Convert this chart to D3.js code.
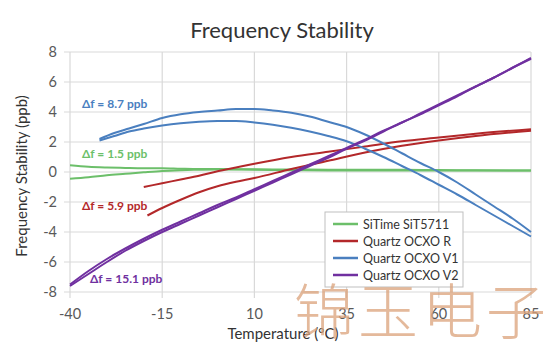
<!DOCTYPE html>
<html><head><meta charset="utf-8">
<script src="https://cdn.jsdelivr.net/npm/d3@7"></script>
<style>body{margin:0;background:#fff}svg{display:block}</style>
</head><body><svg id="c" width="560" height="358"></svg>
<script>
// ---- data ----
const xTicks = [-40, -15, 10, 35, 60, 85];
const yTicks = [-8, -6, -4, -2, 0, 2, 4, 6, 8];

const siTimeT1 = [-40,-35,-30,-25,-20,-15,-10,-5,0,10,20,30,40,50,60,70,85];
const siTimeV1 = [0.45,0.35,0.3,0.27,0.25,0.25,0.22,0.2,0.2,0.18,0.17,0.15,0.15,0.15,0.13,0.12,0.1];
const siTimeT2 = [-40,-35,-30,-25,-20,-15,-10,-5,0,10,20,30,40,50,60,70,85];
const siTimeV2 = [-0.45,-0.35,-0.22,-0.12,-0.02,0.07,0.12,0.15,0.17,0.15,0.12,0.1,0.1,0.1,0.1,0.1,0.1];

const ocxoRT1 = [-20,-15,-10,-5,0,5,10,20,30,40,50,60,70,85];
const ocxoRV1 = [-1.0,-0.75,-0.5,-0.25,0.05,0.3,0.55,1.0,1.35,1.7,2.05,2.3,2.55,2.85];
const ocxoRT2 = [-19,-15,-10,-5,0,5,10,20,30,40,50,60,70,85];
const ocxoRV2 = [-2.9,-2.4,-1.85,-1.35,-0.95,-0.65,-0.4,0.2,0.75,1.3,1.75,2.1,2.4,2.75];

const ocxoV1T1 = [-32,-28,-24,-20,-15,-10,-5,0,5,10,15,20,25,30,35,40,45,50,55,60,65,70,75,80,85];
const ocxoV1V1 = [2.2,2.6,2.9,3.2,3.6,3.85,4.0,4.1,4.2,4.2,4.1,3.95,3.7,3.35,3.0,2.5,1.9,1.25,0.6,0.0,-0.7,-1.5,-2.3,-3.1,-4.0];
const ocxoV1T2 = [-32,-28,-24,-20,-15,-10,-5,0,5,10,15,20,25,30,35,40,45,50,55,60,65,70,75,80,85];
const ocxoV1V2 = [2.1,2.4,2.7,2.9,3.1,3.25,3.35,3.4,3.4,3.3,3.15,2.95,2.7,2.4,2.05,1.55,1.0,0.4,-0.2,-0.85,-1.5,-2.2,-2.9,-3.6,-4.3];

const ocxoV2T1 = [-40,-35,-30,-25,-20,-15,-10,-5,0,5,10,15,20,25,30,35,40,45,50,55,60,65,70,75,80,85];
const ocxoV2V1 = [-7.6,-6.8,-6.0,-5.25,-4.6,-4.0,-3.45,-2.9,-2.35,-1.8,-1.25,-0.7,-0.15,0.4,0.95,1.55,2.1,2.7,3.3,3.85,4.45,5.05,5.7,6.3,6.95,7.6];
const ocxoV2T2 = [-40,-35,-30,-25,-20,-15,-10,-5,0,5,10,15,20,25,30,35,40,45,50,55,60,65,70,75,80,85];
const ocxoV2V2 = [-7.5,-6.6,-5.8,-5.1,-4.45,-3.85,-3.3,-2.75,-2.2,-1.7,-1.15,-0.6,-0.05,0.5,1.05,1.6,2.15,2.75,3.3,3.9,4.5,5.1,5.7,6.3,6.95,7.55];

const seriesNames = ["SiTime SiT5711", "Quartz OCXO R", "Quartz OCXO V1", "Quartz OCXO V2"];
const seriesColors = ["#6cbf6a", "#b3282a", "#4a7fbf", "#7030a0"];
const annotations = ["\u0394f = 1.5 ppb", "\u0394f = 5.9 ppb", "\u0394f = 8.7 ppb", "\u0394f = 15.1 ppb"];

const branches = [
  [0, siTimeT1, siTimeV1], [0, siTimeT2, siTimeV2],
  [1, ocxoRT1, ocxoRV1], [1, ocxoRT2, ocxoRV2],
  [2, ocxoV1T1, ocxoV1V1], [2, ocxoV1T2, ocxoV1V2],
  [3, ocxoV2T1, ocxoV2V1], [3, ocxoV2T2, ocxoV2V2]
];

// ---- layout ----
const svg = d3.select("#c");
const font = "Lato, 'Open Sans', sans-serif";
const x = d3.scaleLinear().domain([-40, 85]).range([70, 531]);
const y = d3.scaleLinear().domain([-8, 8]).range([292, 52]);

// gridlines
const g = svg.append("g");
g.selectAll(".hg").data(yTicks).join("line")
  .attr("x1", x(-40) - 6).attr("x2", x(85))
  .attr("y1", d => y(d)).attr("y2", d => y(d))
  .attr("stroke", "#d9d9d9").attr("stroke-width", 1.2);
g.selectAll(".vg").data(xTicks).join("line")
  .attr("x1", d => x(d)).attr("x2", d => x(d))
  .attr("y1", y(8)).attr("y2", y(-8) + 6)
  .attr("stroke", "#d9d9d9").attr("stroke-width", 1.2);

// tick labels
svg.selectAll(".yl").data(yTicks).join("text")
  .attr("x", 57).attr("y", d => y(d) + 5)
  .attr("text-anchor", "end").attr("font-family", font).attr("font-size", 14.5)
  .attr("fill", "#595959").text(d => d);
svg.selectAll(".xl").data(xTicks).join("text")
  .attr("x", d => x(d)).attr("y", 319)
  .attr("text-anchor", "middle").attr("font-family", font).attr("font-size", 14.5)
  .attr("fill", "#595959").text(d => d);

// titles
svg.append("text").attr("x", 282).attr("y", 38).attr("text-anchor", "middle")
  .attr("font-family", font).attr("font-size", 22).attr("fill", "#333")
  .text("Frequency Stability");
svg.append("text").attr("x", 283).attr("y", 339).attr("text-anchor", "middle")
  .attr("font-family", font).attr("font-size", 15).attr("fill", "#333")
  .text("Temperature (\u00B0C)");
svg.append("text").attr("transform", "translate(27,176) rotate(-90)").attr("text-anchor", "middle")
  .attr("font-family", font).attr("font-size", 15).attr("fill", "#333")
  .text("Frequency Stability (ppb)");

// lines
const line = d3.line().curve(d3.curveMonotoneX);
branches.forEach(([s, ts, vs]) => {
  svg.append("path")
    .attr("d", line(ts.map((t, i) => [x(t), y(vs[i])])))
    .attr("fill", "none").attr("stroke", seriesColors[s]).attr("stroke-width", 2);
});

// annotations
const annPos = [[82, 158], [82, 210], [82, 108], [90, 283]];
annotations.forEach((a, i) => {
  svg.append("text").attr("x", annPos[i][0]).attr("y", annPos[i][1])
    .attr("font-family", font).attr("font-size", 12).attr("font-weight", "bold")
    .attr("fill", seriesColors[i]).text(a);
});

// legend
const lg = svg.append("g");
lg.append("rect").attr("x", 325).attr("y", 212).attr("width", 138).attr("height", 75)
  .attr("fill", "#fff").attr("stroke", "#bfbfbf");
seriesNames.forEach((n, i) => {
  const yy = 224 + i * 17;
  lg.append("line").attr("x1", 333).attr("x2", 358).attr("y1", yy).attr("y2", yy)
    .attr("stroke", seriesColors[i]).attr("stroke-width", 2.5);
  lg.append("text").attr("x", 363).attr("y", yy + 4.5)
    .attr("font-family", font).attr("font-size", 12.5).attr("fill", "#333").text(n);
});

// watermark
svg.append("text").attr("x", 294).attr("y", 334)
  .attr("font-family", "'Noto Sans CJK SC', sans-serif").attr("font-size", 60)
  .attr("font-weight", 300).attr("letter-spacing", 4)
  .attr("fill", "#dba27a").attr("opacity", 0.75).text("锦玉电子");
</script></body></html>
